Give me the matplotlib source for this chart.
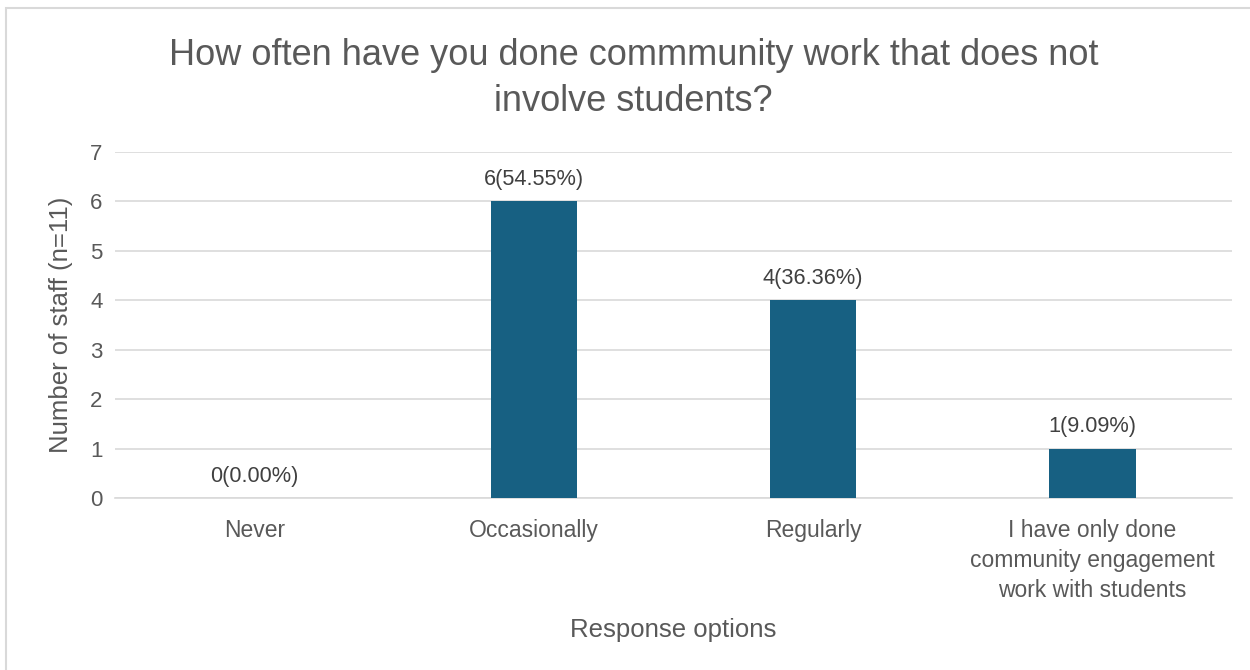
import matplotlib.pyplot as plt
from matplotlib.patches import Rectangle

# Datos
categorias = ['Never', 'Occasionally', 'Regularly',
              'I have only done\ncommunity engagement\nwork with students']
valores = [0, 6, 4, 1]
etiquetas = ['0(0.00%)', '6(54.55%)', '4(36.36%)', '1(9.09%)']

plt.rcParams['font.family'] = ['Liberation Sans', 'DejaVu Sans']
gris = '#595959'

fig = plt.figure(figsize=(12.5, 6.7), dpi=100)
ax = fig.add_axes([0.092, 0.2567, 0.8936, 0.5164])

x = range(len(categorias))
bars = ax.bar(x, valores, width=0.31, color='#176082', zorder=3)

ax.set_xlim(-0.5, len(categorias) - 0.5)
ax.set_ylim(0, 7)
ax.set_yticks(range(0, 8))
ax.grid(axis='y', color='#d9d9d9', linewidth=1.2, zorder=0)
ax.set_xticks(list(x))
ax.set_xticklabels(categorias, fontsize=16.5, color=gris, linespacing=1.4)
ax.tick_params(axis='y', labelsize=16, labelcolor=gris, length=0, pad=9)
ax.tick_params(axis='x', length=0, pad=15)
for s in ['top', 'right', 'left']:
    ax.spines[s].set_visible(False)
ax.spines['bottom'].set_color('#d9d9d9')
ax.spines['bottom'].set_linewidth(1.2)

ax.set_xlabel('Response options', fontsize=18.5, color=gris, labelpad=11)
ax.set_ylabel('Number of staff (n=11)', fontsize=18.5, color=gris, labelpad=12)

# Etiquetas de valores
for bar, etiqueta in zip(bars, etiquetas):
    ax.annotate(etiqueta, (bar.get_x() + bar.get_width() / 2, bar.get_height()),
                xytext=(0, 8), textcoords='offset points',
                ha='center', va='bottom', fontsize=15.7, color='#404040')

fig.text(0.507, 0.883, 'How often have you done commmunity work that does not\ninvolve students?',
         ha='center', va='center', fontsize=26, color=gris, linespacing=1.38)

# Borde del gráfico
fig.patches.append(Rectangle((6 / 1250, -0.05), 1.2, 1 - 8 / 670 + 0.05,
                             transform=fig.transFigure, fill=False,
                             edgecolor='#d9d9d9', linewidth=1.5))

fig.savefig('out.png', dpi=100)
